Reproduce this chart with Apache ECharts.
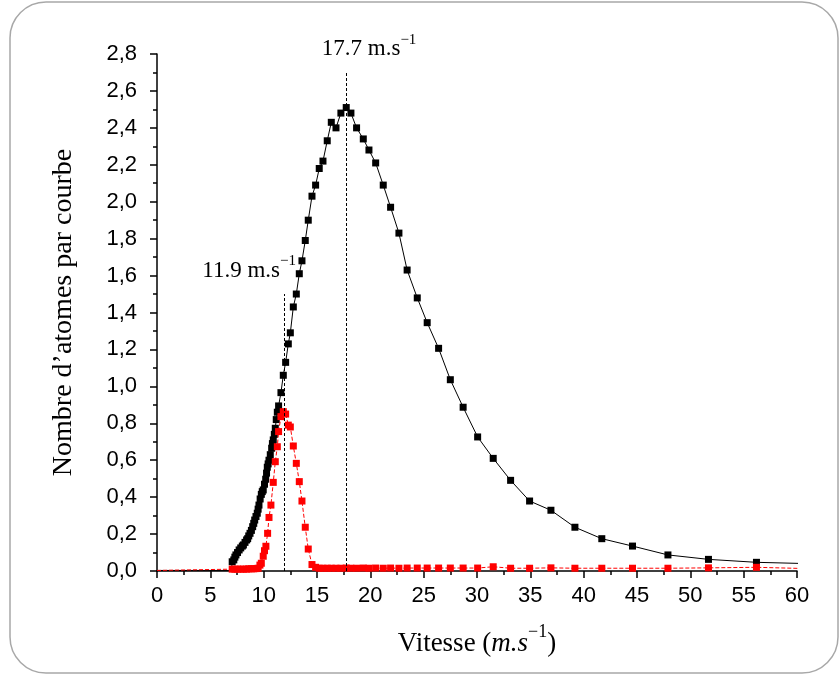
<!DOCTYPE html>
<html>
<head>
<meta charset="utf-8">
<script src="https://cdn.jsdelivr.net/npm/echarts@6/dist/echarts.min.js"></script>
<style>html,body{margin:0;padding:0;background:#fff;}#c{width:840px;height:674px;}</style>
</head>
<body>
<div id="c"></div>
<script>
// Black series (total) : velocity (m/s) and number of atoms
const blackV = [0, 6.98, 7.05, 7.2, 7.3, 7.4, 7.55, 7.7, 7.85, 8.0, 8.1, 8.25, 8.4, 8.5, 8.6, 8.72, 8.85, 8.97, 9.07, 9.16, 9.28, 9.4, 9.48, 9.56, 9.67, 9.78, 9.87, 9.96, 10.08, 10.19, 10.27, 10.34, 10.42, 10.5, 10.62, 10.75, 10.82, 10.9, 11.0, 11.09, 11.18, 11.28, 11.4, 11.62, 11.84, 12.06, 12.31, 12.5, 12.78, 13.06, 13.34, 13.59, 13.9, 14.18, 14.53, 14.87, 15.21, 15.56, 15.96, 16.34, 16.78, 17.24, 17.74, 18.18, 18.71, 19.34, 19.87, 20.5, 21.21, 21.9, 22.68, 23.45, 24.4, 25.33, 26.4, 27.5, 28.7, 30.06, 31.52, 33.15, 34.93, 36.93, 39.18, 41.7, 44.58, 47.9, 51.7, 56.2, 63];
const blackN = [0.003, 0.003, 0.05, 0.06, 0.075, 0.087, 0.1, 0.114, 0.125, 0.135, 0.141, 0.155, 0.168, 0.175, 0.19, 0.204, 0.22, 0.24, 0.258, 0.276, 0.295, 0.313, 0.335, 0.357, 0.39, 0.415, 0.43, 0.439, 0.47, 0.497, 0.53, 0.562, 0.58, 0.6, 0.63, 0.665, 0.69, 0.71, 0.74, 0.773, 0.82, 0.86, 0.894, 0.966, 1.06, 1.13, 1.23, 1.29, 1.43, 1.5, 1.61, 1.68, 1.79, 1.9, 2.03, 2.09, 2.18, 2.22, 2.33, 2.43, 2.4, 2.48, 2.51, 2.48, 2.4, 2.34, 2.28, 2.21, 2.09, 1.97, 1.83, 1.63, 1.479, 1.345, 1.206, 1.036, 0.887, 0.726, 0.61, 0.491, 0.379, 0.329, 0.237, 0.175, 0.135, 0.087, 0.063, 0.047, 0.037];

// Red series (selected class)
const redV = [0, 7.05, 7.3, 7.55, 7.85, 8.1, 8.4, 8.6, 8.85, 9.07, 9.28, 9.48, 9.65, 9.78, 9.96, 10.08, 10.21, 10.37, 10.5, 10.68, 10.9, 11.09, 11.28, 11.4, 11.62, 11.84, 12.06, 12.31, 12.5, 12.78, 13.06, 13.34, 13.59, 13.9, 14.18, 14.53, 14.87, 15.21, 15.56, 15.96, 16.34, 16.78, 17.24, 17.74, 18.18, 18.71, 19.34, 19.87, 20.5, 21.21, 21.9, 22.68, 23.45, 24.4, 25.33, 26.4, 27.5, 28.7, 30.06, 31.52, 33.15, 34.93, 36.93, 39.18, 41.7, 44.58, 47.9, 51.7, 56.2, 63];
const redN = [0.003, 0.01, 0.01, 0.01, 0.01, 0.01, 0.01, 0.012, 0.012, 0.012, 0.013, 0.015, 0.032, 0.042, 0.08, 0.11, 0.134, 0.204, 0.29, 0.357, 0.48, 0.592, 0.673, 0.755, 0.836, 0.863, 0.85, 0.79, 0.78, 0.677, 0.583, 0.484, 0.379, 0.237, 0.119, 0.035, 0.02, 0.015, 0.015, 0.015, 0.015, 0.015, 0.015, 0.016, 0.015, 0.015, 0.016, 0.015, 0.016, 0.015, 0.016, 0.015, 0.016, 0.016, 0.016, 0.016, 0.016, 0.016, 0.016, 0.023, 0.015, 0.015, 0.017, 0.015, 0.015, 0.015, 0.015, 0.017, 0.02, 0.01];

// Vertical annotation lines: velocity and top of line
const markV = [11.9, 17.7];
const markTop = [1.5, 2.7];
const markText = ['11.9', '17.7'];

const xMin = 0, xMax = 60, xStep = 5;
const yMin = 0, yMax = 2.8, yStep = 0.2;

const chart = echarts.init(document.getElementById('c'));

function toData(vs, ns) {
  return vs.map((v, i) => ({ value: [v, ns[i]], symbol: ns[i] < 0.005 ? 'none' : 'rect' }));
}

const serif = '"Liberation Serif", "DejaVu Serif", serif';
const sans = '"Liberation Sans", Arial, sans-serif';

chart.setOption({
  animation: false,
  grid: { left: 157, right: 43, top: 54, bottom: 103, containLabel: false },
  xAxis: {
    type: 'value', min: xMin, max: xMax, interval: xStep,
    axisLine: { show: true, onZero: false, lineStyle: { color: '#000', width: 1.5 } },
    axisTick: { show: true, length: 7, lineStyle: { color: '#000', width: 1.5 } },
    minorTick: { show: true, splitNumber: 2, length: 4, lineStyle: { color: '#000', width: 1.5 } },
    splitLine: { show: false },
    axisLabel: { color: '#000', fontFamily: sans, fontSize: 22, margin: 14 },
    name: '{r|Vitesse (}{i|m.s}{s|−1}{r|)}',
    nameLocation: 'middle', nameGap: 52,
    nameTextStyle: {
      rich: {
        r: { fontFamily: serif, fontSize: 27, color: '#000', lineHeight: 34, verticalAlign: 'bottom' },
        i: { fontFamily: serif, fontSize: 27, fontStyle: 'italic', color: '#000', lineHeight: 34, verticalAlign: 'bottom' },
        s: { fontFamily: serif, fontSize: 18, color: '#000', lineHeight: 34, verticalAlign: 'top' }
      }
    }
  },
  yAxis: {
    type: 'value', min: yMin, max: yMax, interval: yStep,
    axisLine: { show: true, onZero: false, lineStyle: { color: '#000', width: 1.5 } },
    axisTick: { show: true, length: 7, lineStyle: { color: '#000', width: 1.5 } },
    minorTick: { show: true, splitNumber: 2, length: 4, lineStyle: { color: '#000', width: 1.5 } },
    splitLine: { show: false },
    axisLabel: {
      color: '#000', fontFamily: sans, fontSize: 22, margin: 20,
      formatter: v => v.toFixed(1).replace('.', ',')
    },
    name: 'Nombre d’atomes par courbe',
    nameLocation: 'middle', nameGap: 79, nameRotate: 90,
    nameTextStyle: { fontFamily: serif, fontSize: 28, color: '#000' }
  },
  series: [
    {
      type: 'line', data: toData(blackV, blackN), symbolSize: 7, clip: true,
      itemStyle: { color: '#000' },
      lineStyle: { color: '#000', width: 1 },
      markLine: {
        silent: true, symbol: 'none', label: { show: false },
        lineStyle: { color: '#000', type: [3, 2], width: 1 },
        data: markV.map((v, i) => [{ coord: [v, 0] }, { coord: [v, markTop[i]] }])
      },
      z: 2
    },
    {
      type: 'line', data: toData(redV, redN), symbolSize: 7, clip: true,
      itemStyle: { color: '#ff0000' },
      lineStyle: { color: '#ff0000', width: 1, type: [4, 2] },
      z: 3
    }
  ]
});

// annotation labels and rounded frame
const p1 = chart.convertToPixel({ gridIndex: 0 }, [markV[0], markTop[0]]);
const p2 = chart.convertToPixel({ gridIndex: 0 }, [markV[1], markTop[1]]);
const richStyle = {
  n: { fontFamily: serif, fontSize: 23, fill: '#000', lineHeight: 28, verticalAlign: 'bottom' },
  s: { fontFamily: serif, fontSize: 15, fill: '#000', lineHeight: 28, verticalAlign: 'top' }
};
chart.setOption({
  graphic: [
    { type: 'rect', shape: { x: 10, y: 2, width: 828, height: 671, r: 36 }, style: { fill: 'none', stroke: '#a8a8a8', lineWidth: 1.5 }, z: 0, silent: true },
    { type: 'text', x: p1[0] + 12, y: p1[1] - 12, style: { text: '{n|' + markText[0] + ' m.s}{s|−1}', rich: richStyle, align: 'right', verticalAlign: 'bottom' }, z: 10 },
    { type: 'text', x: p2[0] - 24, y: p2[1] - 12, style: { text: '{n|' + markText[1] + ' m.s}{s|−1}', rich: richStyle, align: 'left', verticalAlign: 'bottom' }, z: 10 }
  ]
});
</script>
</body>
</html>
